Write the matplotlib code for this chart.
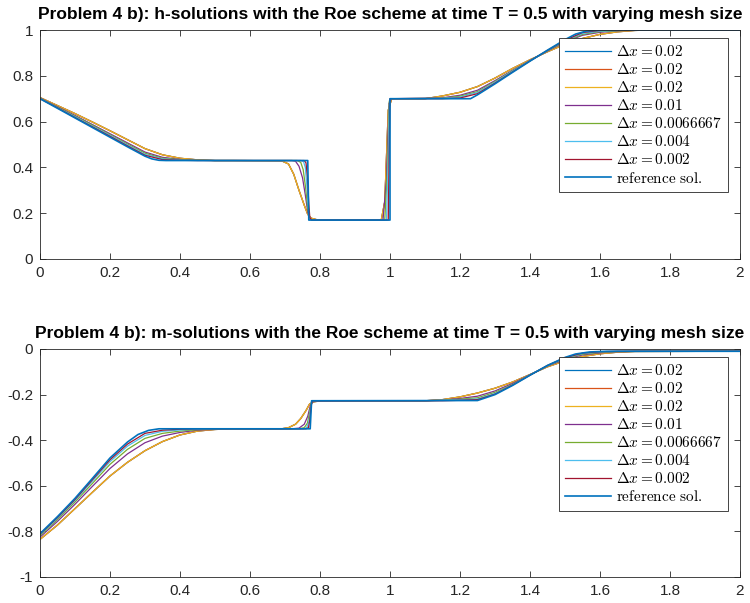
import matplotlib
matplotlib.use("Agg")
import matplotlib.pyplot as plt

plt.rcParams['mathtext.fontset'] = 'cm'
plt.rcParams['font.family'] = ['Liberation Sans', 'DejaVu Sans']

# MATLAB default colour order
colors = ['#0072BD', '#D95319', '#EDB120', '#7E2F8E', '#77AC30', '#4DBEEE', '#A2142F', '#0072BD']
labels = [r'$\Delta x = 0.02$', r'$\Delta x = 0.02$', r'$\Delta x = 0.02$', r'$\Delta x = 0.01$',
          r'$\Delta x = 0.0066667$', r'$\Delta x = 0.004$', r'$\Delta x = 0.002$', r'$\mathrm{reference\ sol.}$']

xticks = [0, 0.2, 0.4, 0.6, 0.8, 1, 1.2, 1.4, 1.6, 1.8, 2]
h_yticks = [0, 0.2, 0.4, 0.6, 0.8, 1]
m_yticks = [-1, -0.8, -0.6, -0.4, -0.2, 0]

# ---------------- h (water height) ----------------
h_x_002 = [0, 0.05, 0.1, 0.15, 0.2, 0.25, 0.3, 0.35, 0.4, 0.45, 0.5, 0.55, 0.69, 0.71, 0.725, 0.74, 0.755, 0.765,
           0.775, 0.79, 0.81, 0.975, 0.985, 0.99, 0.995, 1.005, 1.1, 1.15, 1.2, 1.25, 1.3, 1.35, 1.4, 1.45, 1.5,
           1.55, 1.6, 1.65, 1.7, 1.75, 2.0]
h_y_002 = [0.705, 0.670, 0.635, 0.598, 0.560, 0.521, 0.482, 0.455, 0.440, 0.433, 0.430, 0.430, 0.429, 0.415, 0.37,
           0.30, 0.235, 0.195, 0.178, 0.172, 0.170, 0.170, 0.25, 0.45, 0.65, 0.70, 0.700, 0.712, 0.728, 0.753, 0.79,
           0.832, 0.870, 0.905, 0.938, 0.963, 0.981, 0.992, 0.998, 1.0, 1.0]

h_x_001 = [0, 0.05, 0.1, 0.15, 0.2, 0.25, 0.3, 0.35, 0.4, 0.45, 0.5, 0.72, 0.73, 0.74, 0.75, 0.758, 0.765, 0.772,
           0.78, 0.98, 0.99, 0.997, 1.005, 1.15, 1.2, 1.25, 1.3, 1.35, 1.4, 1.45, 1.5, 1.55, 1.6, 1.65, 1.7, 2.0]
h_y_001 = [0.703, 0.665, 0.627, 0.587, 0.547, 0.507, 0.467, 0.444, 0.435, 0.431, 0.430, 0.430, 0.427, 0.405, 0.355,
           0.28, 0.205, 0.175, 0.170, 0.170, 0.35, 0.68, 0.70, 0.704, 0.715, 0.737, 0.779, 0.824, 0.867, 0.908,
           0.947, 0.977, 0.990, 0.996, 0.999, 1.0]

h_x_00067 = [0, 0.05, 0.1, 0.15, 0.2, 0.25, 0.3, 0.35, 0.4, 0.45, 0.5, 0.735, 0.745, 0.752, 0.759, 0.765, 0.77,
             0.776, 0.985, 0.993, 0.998, 1.003, 1.15, 1.2, 1.25, 1.3, 1.35, 1.4, 1.45, 1.5, 1.55, 1.6, 1.65, 1.7, 2.0]
h_y_00067 = [0.702, 0.663, 0.624, 0.584, 0.543, 0.502, 0.462, 0.440, 0.434, 0.431, 0.430, 0.430, 0.422, 0.39, 0.31,
             0.22, 0.18, 0.170, 0.170, 0.40, 0.69, 0.70, 0.702, 0.711, 0.731, 0.775, 0.822, 0.866, 0.909, 0.950,
             0.981, 0.993, 0.997, 0.999, 1.0]

h_x_0004 = [0, 0.05, 0.1, 0.15, 0.2, 0.25, 0.3, 0.35, 0.4, 0.45, 0.5, 0.745, 0.753, 0.758, 0.763, 0.768, 0.772,
            0.778, 0.99, 0.995, 0.999, 1.002, 1.15, 1.2, 1.25, 1.3, 1.35, 1.4, 1.45, 1.5, 1.55, 1.6, 1.65, 1.7, 2.0]
h_y_0004 = [0.701, 0.661, 0.621, 0.580, 0.540, 0.498, 0.457, 0.437, 0.432, 0.430, 0.430, 0.430, 0.425, 0.40, 0.31,
            0.20, 0.172, 0.170, 0.170, 0.45, 0.695, 0.70, 0.701, 0.707, 0.727, 0.772, 0.820, 0.866, 0.910, 0.953,
            0.985, 0.995, 0.998, 1.0, 1.0]

h_x_0002 = [0, 0.05, 0.1, 0.15, 0.2, 0.25, 0.3, 0.35, 0.4, 0.45, 0.755, 0.76, 0.764, 0.768, 0.771, 0.776, 0.995,
            0.998, 1.0, 1.15, 1.2, 1.25, 1.3, 1.35, 1.4, 1.45, 1.5, 1.55, 1.6, 1.65, 2.0]
h_y_0002 = [0.700, 0.660, 0.618, 0.577, 0.536, 0.494, 0.453, 0.434, 0.431, 0.430, 0.430, 0.42, 0.36, 0.24, 0.18,
            0.170, 0.170, 0.50, 0.70, 0.700, 0.703, 0.722, 0.768, 0.817, 0.865, 0.911, 0.955, 0.989, 0.998, 1.0, 1.0]

h_x_ref = [0, 0.05, 0.1, 0.15, 0.2, 0.25, 0.3, 0.32, 0.34, 0.36, 0.765, 0.768, 1.0, 1.0, 1.23, 1.25, 1.3, 1.35,
           1.4, 1.45, 1.5, 1.53, 1.56, 1.6, 2.0]
h_y_ref = [0.700, 0.658, 0.616, 0.574, 0.532, 0.490, 0.449, 0.437, 0.431, 0.430, 0.430, 0.170, 0.170, 0.700,
           0.700, 0.717, 0.765, 0.815, 0.864, 0.912, 0.958, 0.982, 0.995, 1.0, 1.0]

# ---------------- m (discharge) ----------------
m_x_002 = [0, 0.05, 0.1, 0.15, 0.2, 0.25, 0.3, 0.35, 0.4, 0.45, 0.5, 0.55, 0.69, 0.71, 0.73, 0.745, 0.76, 0.77,
           0.78, 0.8, 1.1, 1.15, 1.2, 1.25, 1.3, 1.35, 1.4, 1.45, 1.5, 1.55, 1.6, 1.65, 1.7, 2.0]
m_y_002 = [-0.835, -0.772, -0.700, -0.628, -0.557, -0.497, -0.446, -0.406, -0.377, -0.360, -0.353, -0.350,
           -0.350, -0.345, -0.330, -0.305, -0.270, -0.242, -0.232, -0.228, -0.227, -0.222, -0.210, -0.193, -0.172,
           -0.145, -0.112, -0.078, -0.052, -0.033, -0.021, -0.014, -0.011, -0.010]

m_x_001 = [0, 0.05, 0.1, 0.15, 0.2, 0.25, 0.3, 0.35, 0.4, 0.45, 0.5, 0.55, 0.72, 0.74, 0.755, 0.765, 0.772, 0.778,
           0.79, 1.1, 1.15, 1.2, 1.25, 1.3, 1.35, 1.4, 1.45, 1.5, 1.55, 1.6, 1.65, 1.7, 2.0]
m_y_001 = [-0.825, -0.756, -0.681, -0.602, -0.524, -0.460, -0.411, -0.382, -0.366, -0.356, -0.352, -0.350,
           -0.350, -0.347, -0.330, -0.295, -0.250, -0.232, -0.228, -0.227, -0.224, -0.217, -0.207, -0.184, -0.151,
           -0.113, -0.075, -0.046, -0.026, -0.017, -0.012, -0.010, -0.010]

m_x_00067 = [0, 0.05, 0.1, 0.15, 0.2, 0.25, 0.3, 0.35, 0.4, 0.45, 0.5, 0.55, 0.74, 0.755, 0.764, 0.77, 0.775,
             0.782, 1.1, 1.15, 1.2, 1.25, 1.3, 1.35, 1.4, 1.45, 1.5, 1.55, 1.6, 1.65, 1.7, 2.0]
m_y_00067 = [-0.819, -0.748, -0.671, -0.589, -0.506, -0.440, -0.392, -0.370, -0.360, -0.354, -0.351, -0.350,
             -0.350, -0.345, -0.325, -0.280, -0.238, -0.229, -0.227, -0.225, -0.220, -0.214, -0.190, -0.155,
             -0.114, -0.074, -0.042, -0.023, -0.015, -0.011, -0.010, -0.010]

m_x_0004 = [0, 0.05, 0.1, 0.15, 0.2, 0.25, 0.3, 0.35, 0.4, 0.45, 0.5, 0.752, 0.762, 0.768, 0.773, 0.777, 0.782,
            1.1, 1.15, 1.2, 1.25, 1.3, 1.35, 1.4, 1.45, 1.5, 1.55, 1.6, 1.65, 1.7, 2.0]
m_y_0004 = [-0.815, -0.742, -0.664, -0.579, -0.494, -0.426, -0.379, -0.361, -0.355, -0.352, -0.350, -0.350,
            -0.345, -0.320, -0.265, -0.232, -0.228, -0.227, -0.225, -0.223, -0.219, -0.195, -0.157, -0.114,
            -0.073, -0.040, -0.020, -0.013, -0.010, -0.010, -0.010]

m_x_0002 = [0, 0.05, 0.1, 0.15, 0.2, 0.25, 0.3, 0.35, 0.4, 0.45, 0.76, 0.767, 0.771, 0.775, 0.779, 1.15, 1.2,
            1.25, 1.3, 1.35, 1.4, 1.45, 1.5, 1.55, 1.6, 1.65, 2.0]
m_y_0002 = [-0.812, -0.739, -0.660, -0.573, -0.486, -0.417, -0.370, -0.356, -0.352, -0.350, -0.350, -0.345,
            -0.310, -0.245, -0.228, -0.227, -0.225, -0.222, -0.198, -0.158, -0.115, -0.072, -0.038, -0.018,
            -0.012, -0.010, -0.010]

m_x_ref = [0, 0.05, 0.1, 0.15, 0.2, 0.25, 0.28, 0.31, 0.34, 0.772, 0.776, 1.25, 1.3, 1.35, 1.4, 1.45, 1.5, 1.53,
           1.57, 1.62, 2.0]
m_y_ref = [-0.810, -0.735, -0.655, -0.567, -0.478, -0.408, -0.375, -0.357, -0.350, -0.350, -0.227, -0.226,
           -0.200, -0.160, -0.115, -0.072, -0.037, -0.022, -0.013, -0.010, -0.010]

h_series = [(h_x_002, h_y_002), (h_x_002, h_y_002), (h_x_002, h_y_002), (h_x_001, h_y_001),
            (h_x_00067, h_y_00067), (h_x_0004, h_y_0004), (h_x_0002, h_y_0002), (h_x_ref, h_y_ref)]
m_series = [(m_x_002, m_y_002), (m_x_002, m_y_002), (m_x_002, m_y_002), (m_x_001, m_y_001),
            (m_x_00067, m_y_00067), (m_x_0004, m_y_0004), (m_x_0002, m_y_0002), (m_x_ref, m_y_ref)]

fig = plt.figure(figsize=(7.5, 6.03), dpi=100)
ax1 = fig.add_axes([40 / 750, 1 - 259 / 603, 700 / 750, 229 / 603])
ax2 = fig.add_axes([40 / 750, 1 - 577 / 603, 700 / 750, 228 / 603])

titles = ['Problem 4 b): h-solutions with the Roe scheme at time T = 0.5 with varying mesh size',
          'Problem 4 b): m-solutions with the Roe scheme at time T = 0.5 with varying mesh size']

for ax, series, yt, ylim, title in [(ax1, h_series, h_yticks, (0, 1), titles[0]),
                                    (ax2, m_series, m_yticks, (-1, 0), titles[1])]:
    for i, ((xs, ys), c, lab) in enumerate(zip(series, colors, labels)):
        ax.plot(xs, ys, color=c, lw=1.2 if i == 7 else 0.9, label=lab)
    ax.set_xlim(0, 2)
    ax.set_ylim(*ylim)
    ax.set_xticks(xticks)
    ax.set_xticklabels(['0', '0.2', '0.4', '0.6', '0.8', '1', '1.2', '1.4', '1.6', '1.8', '2'])
    ax.set_yticks(yt)
    ax.set_yticklabels([('%g' % v) for v in yt])
    ax.tick_params(direction='in', top=True, right=True, length=4, width=0.6, labelsize=11,
                   colors='#262626', pad=5)
    for s in ax.spines.values():
        s.set_linewidth(0.6)
        s.set_color('#262626')
    ax.set_title(title, fontsize=12.5, fontweight='bold', pad=8, color='black')
    leg = ax.legend(loc='upper right', bbox_to_anchor=(0.983, 0.965), fontsize=11, frameon=True, fancybox=False,
                    edgecolor='#262626', framealpha=1, handlelength=3.0, handletextpad=0.35,
                    labelspacing=0.2, borderpad=0.4, borderaxespad=0)
    leg.get_frame().set_linewidth(0.6)

fig.savefig('out.png', dpi=100)
